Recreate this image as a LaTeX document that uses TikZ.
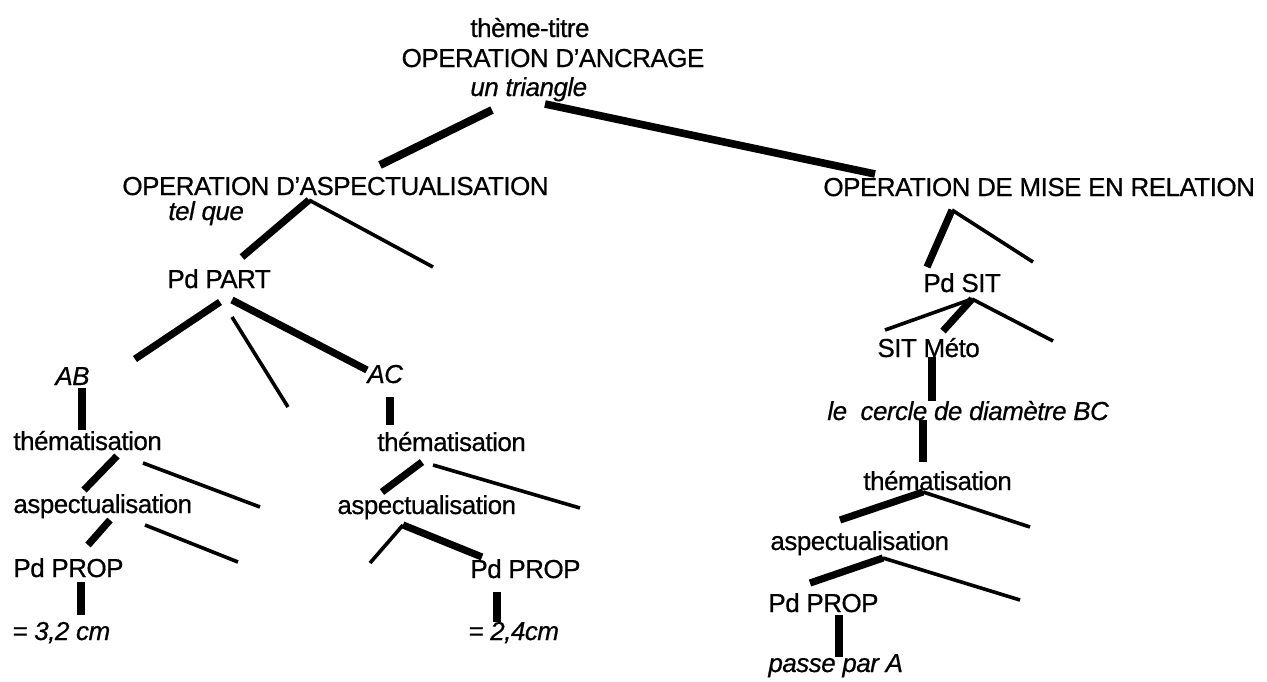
\documentclass[tikz,border=0pt]{standalone}
\usepackage{fontspec}
\setmainfont[LetterSpace=-2,FakeBold=0.6]{Liberation Sans}
\tikzset{
  lbl/.style={inner sep=0pt, anchor=base west, font=\fontsize{13}{15}\selectfont},
  lblc/.style={lbl, anchor=base},
  it/.style={font=\fontsize{13}{15}\selectfont\itshape},
  heavy/.style={line width=3.6pt},
  light/.style={line width=1.8pt},
}
\begin{document}
\begin{tikzpicture}[x=0.5pt,y=-0.5pt]
\useasboundingbox[fill=white] (0,0) rectangle (1267,681);
% ---- text nodes
\node[lbl] (titre) at (470,37) {thème-titre};
\node[lblc] (ancr) at (553,67) {OPERATION D’ANCRAGE};
\node[lbl,it] (tri) at (470,96) {un triangle};
\node[lbl] (opa) at (122,195) {OPERATION D’ASPECTUALISATION};
\node[lbl,it] (telque) at (168,220) {tel que};
\node[lbl] (pdpart) at (167,288) {Pd PART};
\node[lbl,it] (ab) at (55,385) {AB};
\node[lbl,it] (ac) at (367,383) {AC};
\node[lbl] (thA) at (13,450) {thématisation};
\node[lbl] (asA) at (13,513) {aspectualisation};
\node[lbl] (ppA) at (13,577) {Pd PROP};
\node[lbl,it] (vA) at (12,640) {= 3,2 cm};
\node[lbl] (thB) at (377,451) {thématisation};
\node[lbl] (asB) at (337,514) {aspectualisation};
\node[lbl] (ppB) at (470,578) {Pd PROP};
\node[lbl,it] (vB) at (468,640) {= 2,4cm};
\node[lbl] (opm) at (823,196) {OPERATION DE MISE EN RELATION};
\node[lbl] (pdsit) at (923,292) {Pd SIT};
\node[lbl] (meto) at (877,357) {SIT Méto};
\node[lbl,it] (cercle) at (827,420) {le\ \ cercle de diamètre BC};
\node[lbl] (thC) at (863,490) {thématisation};
\node[lbl] (asC) at (770,550) {aspectualisation};
\node[lbl] (ppC) at (768,612) {Pd PROP};
\node[lbl,it] (vC) at (768,672) {passe par A};
% ---- connector end points
\coordinate (tri-l) at (492,110);  \coordinate (opa-t) at (380,165);
\coordinate (tri-r) at (545,104);  \coordinate (opm-t) at (875,174);
\coordinate (opa-b) at (309,200);  \coordinate (pdpart-t) at (242,257);
\coordinate (opa-s) at (433,267);
\coordinate (pdpart-bl) at (220,302); \coordinate (ab-t) at (135,359);
\coordinate (pdpart-bm) at (232,317); \coordinate (pdpart-s) at (288,407);
\coordinate (pdpart-br) at (232,300); \coordinate (ac-t) at (367,370);
\coordinate (ab-b) at (82,388);  \coordinate (thA-t) at (82,430);
\coordinate (thA-b) at (117,456); \coordinate (asA-t) at (84,490);
\coordinate (thA-r) at (143,463); \coordinate (thA-s) at (260,507);
\coordinate (asA-b) at (110,520); \coordinate (ppA-t) at (88,545);
\coordinate (asA-r) at (145,525); \coordinate (asA-s) at (238,562);
\coordinate (ppA-b) at (81,582); \coordinate (vA-t) at (81,615);
\coordinate (ac-b) at (390,397); \coordinate (thB-t) at (390,425);
\coordinate (thB-b) at (422,462); \coordinate (asB-t) at (382,492);
\coordinate (thB-r) at (433,465); \coordinate (thB-s) at (580,508);
\coordinate (asB-b) at (403,525); \coordinate (asB-s) at (370,563);
\coordinate (ppB-t) at (482,557);
\coordinate (ppB-b) at (497,592); \coordinate (vB-t) at (497,622);
\coordinate (opm-b) at (952,210); \coordinate (pdsit-t) at (927,267);
\coordinate (opm-s) at (1033,262);
\coordinate (pdsit-b) at (972,299); \coordinate (pdsit-sl) at (885,330);
\coordinate (meto-t) at (943,331); \coordinate (pdsit-sr) at (1053,341);
\coordinate (meto-b) at (932,357); \coordinate (cercle-t) at (932,401);
\coordinate (cercle-b) at (923,420); \coordinate (thC-t) at (923,462);
\coordinate (thC-b) at (923,492); \coordinate (asC-t) at (840,520);
\coordinate (thC-s) at (1030,527);
\coordinate (asC-b) at (883,558); \coordinate (ppC-t) at (810,583);
\coordinate (asC-s) at (1020,600);
\coordinate (ppC-b) at (839,615); \coordinate (vC-t) at (839,657);
% ---- connectors
\draw[line width=4pt] (tri-l) -- (opa-t);
\draw[line width=3.8pt] (tri-r) -- (opm-t);
\draw[heavy] (opa-b) -- (pdpart-t);
\draw[light] (opa-b) -- (opa-s);
\draw[heavy] (pdpart-bl) -- (ab-t);
\draw[light] (pdpart-bm) -- (pdpart-s);
\draw[heavy] (pdpart-br) -- (ac-t);
\draw[heavy] (ab-b) -- (thA-t);
\draw[heavy] (thA-b) -- (asA-t);
\draw[light] (thA-r) -- (thA-s);
\draw[heavy] (asA-b) -- (ppA-t);
\draw[light] (asA-r) -- (asA-s);
\draw[heavy] (ppA-b) -- (vA-t);
\draw[heavy] (ac-b) -- (thB-t);
\draw[heavy] (thB-b) -- (asB-t);
\draw[light] (thB-r) -- (thB-s);
\draw[light] (asB-b) -- (asB-s);
\draw[heavy] (asB-b) -- (ppB-t);
\draw[heavy] (ppB-b) -- (vB-t);
\draw[heavy] (opm-b) -- (pdsit-t);
\draw[light] (opm-b) -- (opm-s);
\draw[light] (pdsit-b) -- (pdsit-sl);
\draw[heavy] (pdsit-b) -- (meto-t);
\draw[light] (pdsit-b) -- (pdsit-sr);
\draw[heavy] (meto-b) -- (cercle-t);
\draw[heavy] (cercle-b) -- (thC-t);
\draw[heavy] (thC-b) -- (asC-t);
\draw[light] (thC-b) -- (thC-s);
\draw[heavy] (asC-b) -- (ppC-t);
\draw[light] (asC-b) -- (asC-s);
\draw[heavy] (ppC-b) -- (vC-t);
\end{tikzpicture}
\end{document}
